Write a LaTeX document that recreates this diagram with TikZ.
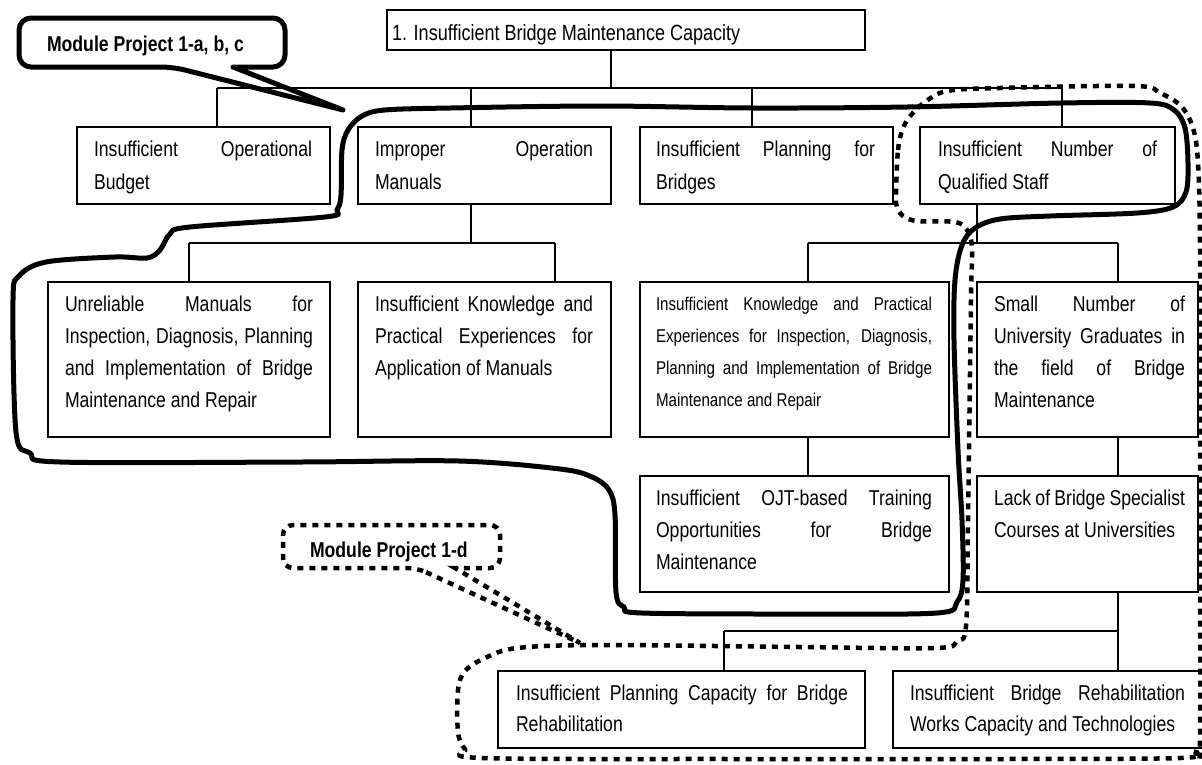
\documentclass[tikz,border=0pt]{standalone}
\usepackage{fontspec}
\setmainfont{Liberation Sans}[FakeStretch=0.82]
\hbadness=10000
\hfuzz=60pt

% one justified line, and a last (ragged) line of a box paragraph
\newcommand\jrow[1]{\hbox to\hsize{#1}}
\newcommand\lrow[1]{\hbox to\hsize{#1\hfil}}
% paragraph of rows: width, baseline distance, rows
\newcommand\ptext[3]{\vtop{\hsize=#1pt\baselineskip=#2pt\lineskiplimit=-100pt\lineskip=0pt\relax#3}}

\tikzset{
  box/.style={draw, line width=1.3pt, inner sep=0pt, outer sep=0pt, anchor=north west},
  conn/.style={line width=1.3pt},
  txt/.style={anchor=base west, inner sep=0pt, outer sep=0pt, font=\fontsize{21.5}{32}\selectfont},
  smalltxt/.style={font=\fontsize{18.5}{32}\selectfont},
  boldtxt/.style={font=\bfseries\fontsize{21.5}{26}\selectfont},
  loopline/.style={line width=5pt, line join=round, line cap=round},
  dotline/.style={line width=4.5pt, dash pattern=on 6pt off 6pt},
}

\begin{document}
\begin{tikzpicture}[x=1pt, y=-1pt]
\useasboundingbox (0,0) rectangle (1202,764);
\fill[white] (0,0) rectangle (1202,764);
\clip (0,0) rectangle (1202,764);

% ---- boxes ----
\node[box, minimum width=478pt, minimum height=40pt] (top) at (387,10) {};
\node[box, minimum width=253pt, minimum height=77pt] (b1) at (77,127) {};
\node[box, minimum width=253pt, minimum height=77pt] (b2) at (358,127) {};
\node[box, minimum width=253pt, minimum height=77pt] (b3) at (640,127) {};
\node[box, minimum width=255pt, minimum height=77pt] (b4) at (920,127) {};
\node[box, minimum width=282pt, minimum height=155pt] (c1) at (48,282) {};
\node[box, minimum width=253pt, minimum height=155pt] (c2) at (358,282) {};
\node[box, minimum width=309pt, minimum height=155pt] (c3) at (640,282) {};
\node[box, minimum width=221pt, minimum height=155pt] (c4) at (977,282) {};
\node[box, minimum width=309pt, minimum height=116pt] (d3) at (640,476) {};
\node[box, minimum width=221pt, minimum height=116pt] (d4) at (977,476) {};
\node[box, minimum width=367pt, minimum height=77pt] (e1) at (498,671) {};
\node[box, minimum width=315pt, minimum height=77pt] (e2) at (893,671) {};

% ---- texts ----
\node[txt, font=\fontsize{22}{26}\selectfont] (ttop) at ([xshift=5pt,yshift=-30pt]top.north west) {1. Insufficient Bridge Maintenance Capacity};

\node[txt] (tb1) at ([xshift=17pt,yshift=-29pt]b1.north west)
  {\ptext{218}{33}{\jrow{Insufficient Operational}\lrow{Budget}}};
\node[txt] (tb2) at ([xshift=17pt,yshift=-29pt]b2.north west)
  {\ptext{218}{33}{\jrow{Improper Operation}\lrow{Manuals}}};
\node[txt] (tb3) at ([xshift=16pt,yshift=-29pt]b3.north west)
  {\ptext{219}{33}{\jrow{Insufficient Planning for}\lrow{Bridges}}};
\node[txt] (tb4) at ([xshift=18pt,yshift=-29pt]b4.north west)
  {\ptext{219}{33}{\jrow{Insufficient Number of}\lrow{Qualified Staff}}};

\node[txt] (tc1) at ([xshift=17pt,yshift=-29pt]c1.north west)
  {\ptext{248}{32}{\jrow{Unreliable Manuals for}\jrow{Inspection, Diagnosis, Planning}\jrow{and Implementation of Bridge}\lrow{Maintenance and Repair}}};
\node[txt] (tc2) at ([xshift=17pt,yshift=-29pt]c2.north west)
  {\ptext{218}{32}{\jrow{Insufficient Knowledge and}\jrow{Practical Experiences for}\lrow{Application of Manuals}}};
\node[txt, smalltxt] (tc3) at ([xshift=16pt,yshift=-28pt]c3.north west)
  {\ptext{276}{32}{\jrow{Insufficient Knowledge and Practical}\jrow{Experiences for Inspection, Diagnosis,}\jrow{Planning and Implementation of Bridge}\lrow{Maintenance and Repair}}};
\node[txt] (tc4) at ([xshift=17pt,yshift=-29pt]c4.north west)
  {\ptext{191}{32}{\jrow{Small Number of}\jrow{University Graduates in}\jrow{the field of Bridge}\lrow{Maintenance}}};

\node[txt] (td3) at ([xshift=16pt,yshift=-29pt]d3.north west)
  {\ptext{276}{32}{\jrow{Insufficient OJT-based Training}\jrow{Opportunities for Bridge}\lrow{Maintenance}}};
\node[txt] (td4) at ([xshift=17pt,yshift=-29pt]d4.north west)
  {\ptext{191}{32}{\lrow{Lack of Bridge Specialist}\lrow{Courses at Universities}}};

\node[txt] (te1) at ([xshift=18pt,yshift=-29pt]e1.north west)
  {\ptext{332}{31}{\jrow{Insufficient Planning Capacity for Bridge}\lrow{Rehabilitation}}};
\node[txt] (te2) at ([xshift=17pt,yshift=-29pt]e2.north west)
  {\ptext{275}{31}{\jrow{Insufficient Bridge Rehabilitation}\lrow{Works Capacity and Technologies}}};

% ---- connectors ----
\coordinate (bus) at (611,88);
\coordinate (k1) at (217,88);
\coordinate (k2) at (471,88);
\coordinate (k3) at (752,88);
\coordinate (k4) at (1062,88);
\draw[conn] (top.south -| bus) -- (bus);
\draw[conn] (k1) -- (k4);
\draw[conn] (k1) -- (k1 |- b1.north);
\draw[conn] (k2) -- (k2 |- b2.north);
\draw[conn] (k3) -- (k3 |- b3.north);
\draw[conn] (k4) -- (k4 |- b4.north);

\coordinate (m2) at (471,243);
\coordinate (m2a) at (189,243);
\coordinate (m2b) at (555,243);
\draw[conn] (b2.south -| m2) -- (m2);
\draw[conn] (m2a) -- (m2b);
\draw[conn] (m2a) -- (m2a |- c1.north);
\draw[conn] (m2b) -- (m2b |- c2.north);

\coordinate (m4) at (977,243);
\coordinate (n3) at (808,243);
\coordinate (n4) at (1118,243);
\draw[conn] (b4.south -| m4) -- (m4);
\draw[conn] (n3) -- (n4);
\draw[conn] (n3) -- (n3 |- c3.north);
\draw[conn] (n4) -- (n4 |- c4.north);
\draw[conn] (c3.south -| n3) -- (n3 |- d3.north);
\draw[conn] (c4.south -| n4) -- (n4 |- d4.north);

\coordinate (p4) at (1118,631);
\coordinate (q4) at (724,631);
\draw[conn] (d4.south -| p4) -- (p4 |- e2.north);
\draw[conn] (q4) -- (p4);
\draw[conn] (q4) -- (q4 |- e1.north);

% ---- callout: Module Project 1-a, b, c ----
\draw[line width=5pt, line join=round] (173,67) -- (343,110) -- (233,67)
  [rounded corners=12pt] -- (285,67) -- (285,18) -- (19,18) -- (19,67) -- cycle;
\node[txt, boldtxt] (call1) at (47,51) {Module Project 1-a, b, c};

% ---- callout: Module Project 1-d ----
\draw[dotline] (417,568) -- (580,643) -- (455,568)
  [rounded corners=10pt] -- (500,568) -- (500,525) -- (283,525) -- (283,568) -- cycle;
\node[txt, boldtxt] (call2) at (310,557) {Module Project 1-d};

% ---- solid outline round the 1-a, b, c group ----
\draw[loopline] plot[smooth cycle, tension=0.55] coordinates {
  (341,195) (342,150) (348,130) (362,116) (385,110) (450,108) (600,106)
  (753,108) (907,107) (1061,103) (1150,103) (1174,110) (1185,128) (1188,163)
  (1186,192) (1173,207) (1137,213) (1050,216) (1000,219) (975,228) (962,245)
  (955,280) (954,340) (958,450) (962,520) (963,580) (957,602) (937,613)
  (800,614) (642,613) (624,607) (616,592) (615,515) (609,490) (592,477)
  (560,469) (459,461) (300,462) (60,462) (30,453) (16,432) (13,300)
  (19,276) (46,262) (115,257) (147,258) (160,250) (170,234) (190,227)
  (325,217) (337,210)};

% ---- dotted outline round the 1-d group ----
\draw[dotline] plot[smooth cycle, tension=0.55] coordinates {
  (896,195) (898,150) (903,128) (912,114) (925,102) (947,91) (1000,88)
  (1135,86) (1160,93) (1181,106) (1193,128) (1198,163) (1200,250) (1200,500)
  (1200,740) (1196,752) (1180,758) (1000,759) (734,759) (482,758) (465,749)
  (458,732) (458,690) (465,671) (485,658) (517,648) (600,645) (800,647)
  (936,648) (957,641) (966,626) (968,520) (971,300) (972,248) (967,230)
  (955,222) (917,221) (903,216) (897,207)};
\end{tikzpicture}
\end{document}
